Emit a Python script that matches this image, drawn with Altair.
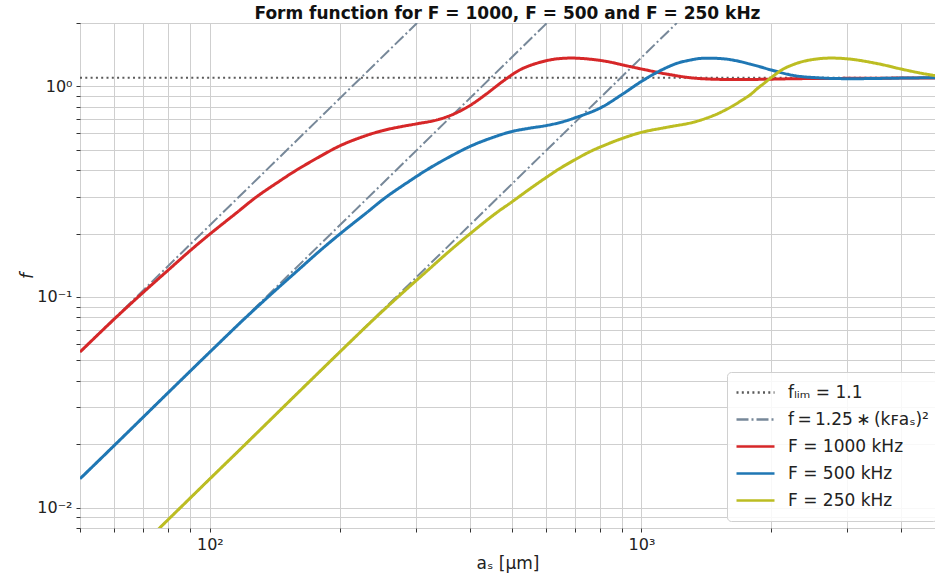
import altair as alt
import pandas as pd

# ---- data ----
red_x = [50, 60, 70, 80, 90, 100, 115, 128, 145, 158, 180, 200, 225, 250, 275, 300, 335, 365, 400, 437,
         477, 522, 570, 623, 680, 745, 830, 923, 1027, 1143, 1317, 1574, 1882, 2300, 3000, 4000, 4800]
red_y = [0.0548, 0.0785, 0.105, 0.134, 0.166, 0.199, 0.25, 0.298, 0.355, 0.398, 0.465, 0.522, 0.575, 0.615,
         0.642, 0.663, 0.692, 0.735, 0.81, 0.92, 1.056, 1.196, 1.285, 1.343, 1.363, 1.352, 1.314, 1.253,
         1.196, 1.145, 1.096, 1.078, 1.08, 1.088, 1.092, 1.095, 1.095]

blue_x = [50, 60, 80, 100, 120, 140, 160, 180, 200, 230, 256, 290, 316, 340, 400, 450, 500, 550, 600, 650,
          700, 800, 900, 1000, 1105, 1206, 1290, 1366, 1470, 1574, 1700, 1784, 1882, 2000, 2268, 2616, 3000,
          4000, 4800]
blue_y = [0.0137, 0.0197, 0.0351, 0.0548, 0.0785, 0.105, 0.134, 0.166, 0.199, 0.25, 0.298, 0.355, 0.398,
          0.435, 0.518, 0.57, 0.61, 0.633, 0.651, 0.675, 0.708, 0.787, 0.913, 1.056, 1.187, 1.285, 1.33,
          1.357, 1.36, 1.348, 1.31, 1.277, 1.24, 1.196, 1.124, 1.096, 1.088, 1.095, 1.10]

olive_x = [76, 100, 120, 160, 200, 240, 280, 320, 360, 400, 460, 500, 550, 600, 650, 706, 760, 815, 900,
           1000, 1143, 1317, 1466, 1550, 1632, 1710, 1784, 1860, 1915, 2020, 2131, 2250, 2371, 2550, 2735,
           3043, 3510, 4000, 4400, 4800]
olive_y = [0.0079, 0.0137, 0.0197, 0.0351, 0.0548, 0.0785, 0.105, 0.134, 0.166, 0.199, 0.25, 0.282, 0.325,
           0.368, 0.41, 0.452, 0.49, 0.522, 0.565, 0.605, 0.639, 0.675, 0.726, 0.765, 0.81, 0.86, 0.91, 0.98,
           1.027, 1.12, 1.209, 1.27, 1.314, 1.35, 1.363, 1.348, 1.285, 1.209, 1.16, 1.124]

# asymptotes f = 1.25*(k_F a_s)^2 (straight lines on log-log, two end points each)
asym1000_x = [50, 302]
asym1000_y = [0.0548, 2.0]
asym500_x = [50, 604]
asym500_y = [0.0137, 2.0]
asym250_x = [76.4, 1208]
asym250_y = [0.008, 2.0]

flim_x = [50, 4800]
flim_y = [1.1, 1.1]

labels = ["fₗᵢₘ = 1.1", "f\u2009=\u20091.25\u2009∗\u2009(kꜰaₛ)²", "F = 1000 kHz", "F = 500 kHz", "F = 250 kHz"]
colors = ["#5a5a5a", "#778899", "#d62728", "#1f77b4", "#bcbd22"]
dashes = [[2, 3.3], [12, 3, 2, 3], [1, 0], [1, 0], [1, 0]]

x_ticks = [50, 60, 70, 80, 90, 100, 200, 300, 400, 500, 600, 700, 800, 900, 1000, 2000, 3000, 4000]
y_ticks = [0.008, 0.009, 0.01, 0.02, 0.03, 0.04, 0.05, 0.06, 0.07, 0.08, 0.09,
           0.1, 0.2, 0.3, 0.4, 0.5, 0.6, 0.7, 0.8, 0.9, 1, 2]

rows = []
def add(xs, ys, series, group, order):
    for a, b in zip(xs, ys):
        rows.append({"x": a, "y": b, "series": series, "group": group, "o": order})

add(flim_x, flim_y, labels[0], "flim", 0)
add(asym1000_x, asym1000_y, labels[1], "a1000", 1)
add(asym500_x, asym500_y, labels[1], "a500", 1)
add(asym250_x, asym250_y, labels[1], "a250", 1)
add(red_x, red_y, labels[2], "r", 2)
add(blue_x, blue_y, labels[3], "b", 3)
add(olive_x, olive_y, labels[4], "o", 4)
df = pd.DataFrame(rows)

FONT = "DejaVu Sans"

leg = alt.Legend(
    title=None, orient="none", legendX=647, legendY=349,
    symbolType="stroke", symbolSize=1444, clipHeight=25, rowPadding=2,
    labelFontSize=17, labelFont=FONT, labelColor="#222", labelOffset=12,
    fillColor="rgba(255,255,255,0.85)", strokeColor="#d0d0d0", cornerRadius=4,
    padding=8, symbolStrokeWidth=2.6, labelLimit=300,
)

xs = alt.X("x:Q", scale=alt.Scale(type="log", domain=[50, 4790], nice=False),
           axis=alt.Axis(values=x_ticks, title="aₛ [µm]",
                         labelExpr="datum.value == 100 ? '10²' : datum.value == 1000 ? '10³' : ''",
                         labelOverlap=False, labelFlush=False, tickSize=4, labelPadding=4))
ys = alt.Y("y:Q", scale=alt.Scale(type="log", domain=[0.008, 2.0], nice=False),
           axis=alt.Axis(values=y_ticks, title="f", titleFontStyle="italic",
                         labelExpr="datum.value == 0.01 ? '10⁻²' : datum.value == 0.1 ? '10⁻¹' : datum.value == 1 ? '10⁰' : ''",
                         labelOverlap=False, labelFlush=False, tickSize=4, labelPadding=4))

enc = dict(
    x=xs, y=ys,
    color=alt.Color("series:N", scale=alt.Scale(domain=labels, range=colors), legend=leg, sort=labels),
    strokeDash=alt.StrokeDash("series:N", scale=alt.Scale(domain=labels, range=dashes), legend=leg, sort=labels),
    detail="group:N",
)

base = alt.Chart(df)
thin = base.transform_filter("datum.o <= 1").mark_line(clip=True, strokeWidth=2).encode(**enc)
thick = base.transform_filter("datum.o >= 2").mark_line(
    clip=True, strokeWidth=3, interpolate="catmull-rom").encode(**enc)

chart = alt.layer(thin, thick).properties(
    width=855, height=505,
    padding={"left": 80, "top": 23, "right": 0, "bottom": 49},
    autosize=alt.AutoSizeParams(type="none"),
    title=alt.TitleParams("Form function for F = 1000, F = 500 and F = 250 kHz",
                          font=FONT, fontSize=17, fontWeight="bold", color="#111",
                          offset=0, dy=8, anchor="middle"),
).configure_view(
    stroke="#333", strokeWidth=1
).configure_axis(
    gridColor="#cfcfcf", gridWidth=1, domain=False, tickColor="#333",
    labelFont=FONT, labelFontSize=16, labelColor="#222",
    titleFont=FONT, titleFontSize=17, titleFontWeight="normal", titleColor="#222",
).configure_axisX(titlePadding=3).configure_axisY(titlePadding=0)

chart.save("out.html", embed_options={"renderer": "svg", "actions": False})
